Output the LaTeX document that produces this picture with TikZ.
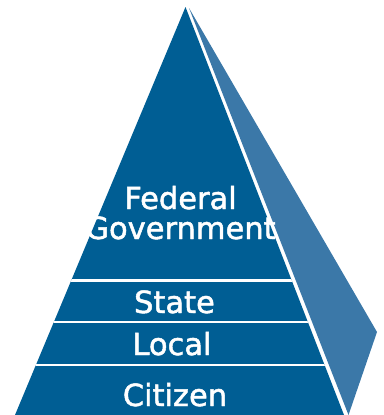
\documentclass[tikz,border=0pt]{standalone}
\usepackage{fontspec}
\setmainfont{DejaVu Sans}
\newfontfamily\lblfont{DejaVu Sans}[FakeBold=1.6]
\definecolor{frontblue}{RGB}{0,94,148}
\definecolor{sideblue}{RGB}{59,120,168}
\begin{document}
\begin{tikzpicture}[x=1pt,y=-1pt,
  lbl/.style={text=white,font=\lblfont\fontsize{30.5}{30}\selectfont,inner sep=0pt,anchor=base,align=center},
  sep/.style={white,line width=2.6pt}]
\useasboundingbox (0,0) rectangle (383,415);
% coordinates
\coordinate (apex) at (185.5,7);
\coordinate (bl) at (15,415);
\coordinate (br) at (344,415);
\coordinate (sapex) at (189,8);
\coordinate (sright) at (377,332);
\coordinate (sbottom) at (348.5,415);
% side face
\fill[sideblue] (sapex) -- (sright) -- (sbottom) -- cycle;
% front face
\fill[frontblue] (apex) -- (bl) -- (br) -- cycle;
% band separators
\begin{scope}
  \clip (apex) -- (bl) -- (br) -- cycle;
  \coordinate (s1l) at (0,280.5); \coordinate (s1r) at (383,280.5);
  \coordinate (s2l) at (0,322); \coordinate (s2r) at (383,322);
  \coordinate (s3l) at (0,365); \coordinate (s3r) at (383,365);
  \draw[sep] (s1l) -- (s1r);
  \draw[sep] (s2l) -- (s2r);
  \draw[sep] (s3l) -- (s3r);
\end{scope}
% labels
\node[lbl] (fed) at (180.5,239) {Federal\\Government};
\node[lbl] (state) at (174.5,313) {State};
\node[lbl] (local) at (172,355) {Local};
\node[lbl] (citizen) at (175,406) {Citizen};
\end{tikzpicture}
\end{document}
